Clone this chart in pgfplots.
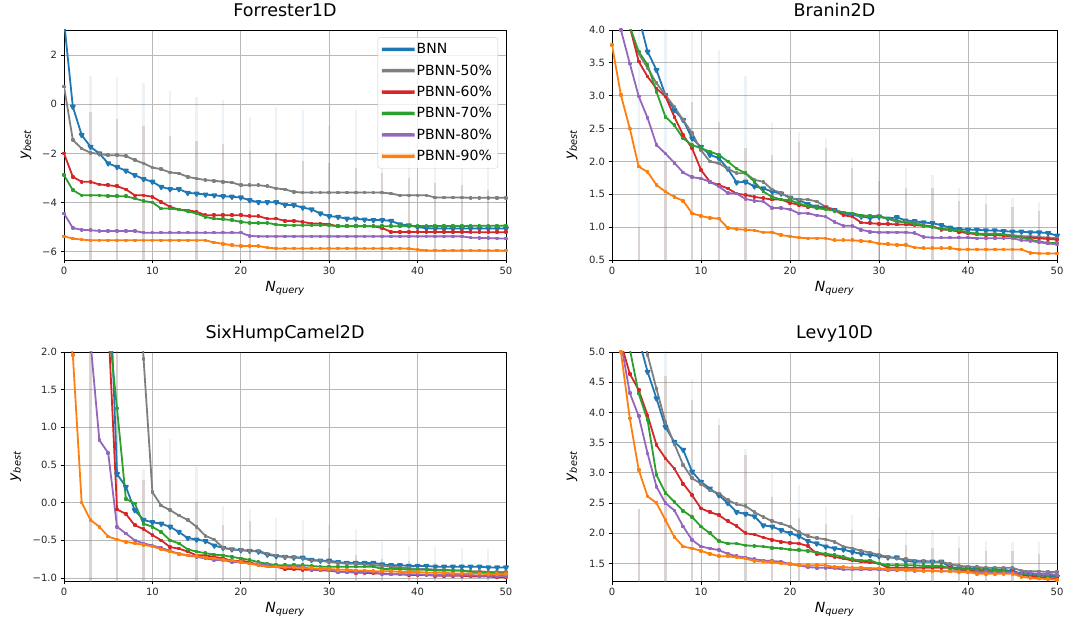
\documentclass[border=0pt]{standalone}
\usepackage{fontspec}
\setmainfont{DejaVu Sans}
\usepackage{pgfplots}
\usepackage{pgfplotstable}
\pgfplotsset{compat=1.18}

\definecolor{cB}{HTML}{1F77B4}
\definecolor{c50}{HTML}{7F7F7F}
\definecolor{c60}{HTML}{D62728}
\definecolor{c70}{HTML}{2CA02C}
\definecolor{c80}{HTML}{9467BD}
\definecolor{c90}{HTML}{FF7F0E}
\definecolor{errbr}{HTML}{A8765E}
\definecolor{gridc}{HTML}{B8B8B8}
\definecolor{legc}{HTML}{CCCCCC}

% mean best value per query, one table per benchmark
\pgfplotstableread{
x bnn p50 p60 p70 p80 p90
0 3.40 0.72 -2.00 -2.88 -4.44 -5.37
1 -0.10 -1.45 -2.95 -3.49 -5.03 -5.46
2 -1.25 -1.80 -3.15 -3.70 -5.10 -5.50
3 -1.73 -1.97 -3.15 -3.70 -5.12 -5.53
4 -2.00 -2.02 -3.26 -3.70 -5.15 -5.53
5 -2.40 -2.07 -3.29 -3.72 -5.15 -5.53
6 -2.55 -2.07 -3.33 -3.74 -5.15 -5.53
7 -2.70 -2.10 -3.46 -3.74 -5.15 -5.53
8 -2.88 -2.27 -3.70 -3.83 -5.15 -5.53
9 -3.04 -2.40 -3.70 -3.93 -5.22 -5.53
10 -3.15 -2.57 -3.76 -3.99 -5.22 -5.53
11 -3.36 -2.64 -3.97 -4.24 -5.22 -5.53
12 -3.45 -2.77 -4.17 -4.24 -5.22 -5.53
13 -3.45 -2.81 -4.28 -4.28 -5.22 -5.53
14 -3.60 -2.95 -4.31 -4.35 -5.22 -5.53
15 -3.63 -3.02 -4.37 -4.44 -5.22 -5.53
16 -3.67 -3.08 -4.51 -4.58 -5.22 -5.53
17 -3.70 -3.11 -4.51 -4.65 -5.22 -5.62
18 -3.74 -3.15 -4.51 -4.67 -5.22 -5.67
19 -3.76 -3.18 -4.51 -4.71 -5.22 -5.73
20 -3.79 -3.29 -4.51 -4.78 -5.22 -5.76
21 -3.90 -3.29 -4.55 -4.82 -5.35 -5.76
22 -3.98 -3.29 -4.55 -4.82 -5.37 -5.76
23 -3.98 -3.33 -4.65 -4.82 -5.37 -5.83
24 -3.98 -3.42 -4.65 -4.89 -5.37 -5.86
25 -4.09 -3.46 -4.74 -4.92 -5.37 -5.86
26 -4.10 -3.56 -4.74 -4.92 -5.37 -5.86
27 -4.20 -3.59 -4.78 -4.92 -5.37 -5.86
28 -4.27 -3.59 -4.85 -4.92 -5.37 -5.86
29 -4.44 -3.59 -4.85 -4.92 -5.37 -5.86
30 -4.55 -3.59 -4.88 -4.92 -5.37 -5.86
31 -4.58 -3.59 -4.96 -4.96 -5.37 -5.86
32 -4.65 -3.59 -4.96 -4.96 -5.37 -5.86
33 -4.65 -3.59 -4.96 -4.96 -5.37 -5.86
34 -4.69 -3.59 -4.96 -4.96 -5.37 -5.86
35 -4.71 -3.59 -4.96 -4.96 -5.37 -5.86
36 -4.71 -3.59 -5.03 -4.96 -5.37 -5.86
37 -4.74 -3.63 -5.19 -4.96 -5.37 -5.86
38 -4.88 -3.70 -5.19 -4.96 -5.37 -5.86
39 -4.92 -3.70 -5.19 -4.96 -5.37 -5.87
40 -4.99 -3.70 -5.19 -4.95 -5.37 -5.91
41 -5.04 -3.70 -5.19 -4.95 -5.37 -5.94
42 -5.05 -3.79 -5.19 -4.95 -5.37 -5.94
43 -5.05 -3.79 -5.19 -4.95 -5.37 -5.94
44 -5.05 -3.79 -5.19 -4.95 -5.37 -5.94
45 -5.05 -3.79 -5.19 -4.95 -5.37 -5.94
46 -5.05 -3.80 -5.20 -4.94 -5.42 -5.94
47 -5.05 -3.80 -5.20 -4.94 -5.43 -5.94
48 -5.05 -3.80 -5.20 -4.94 -5.44 -5.94
49 -5.05 -3.80 -5.20 -4.94 -5.45 -5.94
50 -5.05 -3.80 -5.20 -4.93 -5.46 -5.94
}\Fdat

\pgfplotstableread{
x bnn p50 p60 p70 p80 p90
0 6.50 6.00 6.00 6.00 5.00 3.77
1 5.80 5.00 5.00 5.00 4.00 3.01
2 5.00 4.05 4.05 4.05 3.49 2.50
3 4.20 3.64 3.52 3.67 2.99 1.92
4 3.67 3.42 3.29 3.47 2.66 1.84
5 3.39 3.19 3.11 3.06 2.25 1.64
6 3.01 3.01 2.99 2.68 2.12 1.54
7 2.78 2.83 2.68 2.55 1.98 1.46
8 2.63 2.63 2.40 2.35 1.83 1.40
9 2.35 2.43 2.20 2.25 1.76 1.21
10 2.22 2.17 1.87 2.20 1.74 1.17
11 2.10 2.00 1.69 2.15 1.69 1.14
12 2.05 1.97 1.64 2.10 1.62 1.13
13 1.89 1.89 1.59 2.00 1.52 0.99
14 1.68 1.82 1.51 1.89 1.51 0.97
15 1.69 1.82 1.49 1.82 1.43 0.96
16 1.62 1.72 1.46 1.69 1.40 0.95
17 1.59 1.69 1.44 1.54 1.39 0.92
18 1.54 1.57 1.42 1.46 1.29 0.92
19 1.51 1.52 1.42 1.42 1.29 0.88
20 1.45 1.44 1.37 1.41 1.27 0.86
21 1.41 1.42 1.34 1.36 1.21 0.84
22 1.35 1.42 1.31 1.32 1.21 0.83
23 1.31 1.39 1.30 1.29 1.18 0.83
24 1.30 1.31 1.29 1.27 1.16 0.83
25 1.26 1.27 1.26 1.25 1.08 0.80
26 1.21 1.22 1.18 1.22 1.02 0.80
27 1.19 1.20 1.16 1.21 1.02 0.80
28 1.16 1.17 1.07 1.18 0.96 0.79
29 1.14 1.17 1.06 1.17 0.93 0.78
30 1.16 1.17 1.05 1.16 0.92 0.75
31 1.13 1.13 1.05 1.13 0.92 0.74
32 1.15 1.08 1.04 1.10 0.92 0.73
33 1.10 1.08 1.04 1.07 0.92 0.73
34 1.09 1.07 1.03 1.05 0.91 0.69
35 1.07 1.03 1.02 1.02 0.85 0.68
36 1.06 1.01 1.01 1.00 0.84 0.68
37 1.03 0.96 0.97 0.98 0.84 0.68
38 0.99 0.96 0.96 0.96 0.84 0.68
39 0.97 0.93 0.93 0.95 0.84 0.66
40 0.96 0.91 0.91 0.92 0.84 0.66
41 0.96 0.90 0.89 0.90 0.83 0.66
42 0.95 0.90 0.88 0.89 0.83 0.66
43 0.95 0.90 0.88 0.89 0.83 0.66
44 0.94 0.89 0.87 0.89 0.83 0.66
45 0.93 0.88 0.86 0.86 0.83 0.66
46 0.93 0.86 0.84 0.84 0.80 0.66
47 0.92 0.86 0.84 0.81 0.79 0.61
48 0.92 0.85 0.83 0.78 0.77 0.60
49 0.91 0.84 0.82 0.76 0.75 0.60
50 0.87 0.83 0.81 0.76 0.74 0.60
}\Bdat

\pgfplotstableread{
x bnn p50 p60 p70 p80 p90
0 9.00 12.00 9.00 9.00 8.00 2.60
1 8.00 11.00 8.00 8.00 6.00 1.96
2 7.00 10.00 7.00 7.00 4.00 -0.00
3 6.00 9.00 6.00 6.00 2.13 -0.23
4 5.00 8.00 4.50 4.50 0.83 -0.32
5 3.50 7.00 2.40 2.40 0.66 -0.45
6 0.38 6.00 -0.09 1.25 -0.32 -0.49
7 0.21 5.00 -0.15 0.05 -0.41 -0.52
8 -0.10 4.00 -0.30 -0.01 -0.50 -0.54
9 -0.23 1.91 -0.35 -0.28 -0.54 -0.56
10 -0.26 0.14 -0.43 -0.32 -0.57 -0.58
11 -0.28 -0.04 -0.50 -0.39 -0.60 -0.62
12 -0.32 -0.10 -0.59 -0.50 -0.64 -0.65
13 -0.39 -0.17 -0.61 -0.54 -0.68 -0.68
14 -0.47 -0.23 -0.65 -0.62 -0.70 -0.70
15 -0.49 -0.32 -0.70 -0.65 -0.72 -0.71
16 -0.51 -0.44 -0.70 -0.67 -0.74 -0.73
17 -0.57 -0.49 -0.72 -0.69 -0.76 -0.74
18 -0.60 -0.60 -0.74 -0.70 -0.76 -0.76
19 -0.62 -0.62 -0.77 -0.72 -0.79 -0.77
20 -0.63 -0.63 -0.77 -0.74 -0.79 -0.79
21 -0.64 -0.64 -0.79 -0.76 -0.81 -0.81
22 -0.65 -0.64 -0.83 -0.79 -0.81 -0.83
23 -0.69 -0.68 -0.85 -0.81 -0.83 -0.85
24 -0.71 -0.70 -0.85 -0.83 -0.85 -0.85
25 -0.72 -0.72 -0.88 -0.83 -0.85 -0.86
26 -0.73 -0.72 -0.88 -0.83 -0.85 -0.86
27 -0.73 -0.74 -0.89 -0.83 -0.85 -0.87
28 -0.76 -0.77 -0.89 -0.84 -0.89 -0.87
29 -0.77 -0.77 -0.90 -0.85 -0.89 -0.88
30 -0.77 -0.79 -0.90 -0.85 -0.89 -0.88
31 -0.79 -0.80 -0.92 -0.85 -0.92 -0.89
32 -0.80 -0.81 -0.92 -0.85 -0.92 -0.89
33 -0.80 -0.81 -0.93 -0.85 -0.92 -0.90
34 -0.80 -0.82 -0.93 -0.85 -0.92 -0.90
35 -0.80 -0.83 -0.94 -0.85 -0.92 -0.91
36 -0.82 -0.84 -0.94 -0.88 -0.95 -0.91
37 -0.83 -0.85 -0.95 -0.88 -0.95 -0.91
38 -0.83 -0.86 -0.95 -0.88 -0.95 -0.92
39 -0.84 -0.87 -0.96 -0.89 -0.95 -0.92
40 -0.84 -0.88 -0.96 -0.89 -0.95 -0.92
41 -0.84 -0.88 -0.96 -0.89 -0.96 -0.93
42 -0.85 -0.89 -0.97 -0.90 -0.96 -0.93
43 -0.85 -0.89 -0.97 -0.90 -0.96 -0.93
44 -0.85 -0.90 -0.97 -0.90 -0.96 -0.94
45 -0.85 -0.90 -0.97 -0.90 -0.96 -0.94
46 -0.85 -0.91 -0.98 -0.92 -0.96 -0.94
47 -0.85 -0.91 -0.98 -0.93 -0.97 -0.94
48 -0.86 -0.92 -0.98 -0.93 -0.97 -0.95
49 -0.86 -0.92 -0.99 -0.94 -0.97 -0.95
50 -0.86 -0.92 -0.99 -0.94 -0.97 -0.95
}\Sdat

\pgfplotstableread{
x bnn p50 p60 p70 p80 p90
0 8.00 8.00 7.00 7.00 7.00 7.00
1 6.50 7.00 5.15 6.00 5.15 5.00
2 6.00 6.50 4.64 5.05 4.32 3.90
3 5.22 6.00 4.37 4.31 3.94 3.05
4 4.67 4.95 3.95 3.87 3.32 2.61
5 4.23 4.39 3.46 2.96 2.77 2.50
6 3.76 3.84 3.24 2.67 2.50 2.22
7 3.51 3.48 3.07 2.52 2.38 1.94
8 3.38 3.13 2.82 2.37 2.11 1.78
9 3.02 2.91 2.63 2.27 1.89 1.75
10 2.85 2.82 2.41 2.11 1.78 1.71
11 2.74 2.71 2.35 2.00 1.75 1.66
12 2.63 2.66 2.30 1.87 1.72 1.62
13 2.50 2.55 2.20 1.83 1.66 1.62
14 2.35 2.48 2.12 1.83 1.62 1.60
15 2.32 2.45 2.00 1.80 1.60 1.58
16 2.28 2.35 1.98 1.79 1.57 1.54
17 2.13 2.27 1.93 1.78 1.55 1.53
18 2.11 2.20 1.89 1.76 1.54 1.52
19 2.05 2.16 1.86 1.75 1.53 1.50
20 2.00 2.11 1.84 1.73 1.49 1.49
21 1.95 2.02 1.83 1.72 1.47 1.47
22 1.87 1.95 1.79 1.71 1.44 1.47
23 1.83 1.92 1.66 1.68 1.43 1.47
24 1.78 1.90 1.64 1.66 1.43 1.47
25 1.75 1.86 1.61 1.64 1.42 1.44
26 1.73 1.78 1.58 1.61 1.40 1.44
27 1.69 1.75 1.55 1.57 1.40 1.43
28 1.66 1.71 1.53 1.55 1.40 1.43
29 1.64 1.68 1.52 1.55 1.40 1.42
30 1.62 1.64 1.50 1.50 1.40 1.42
31 1.60 1.61 1.43 1.47 1.39 1.40
32 1.60 1.58 1.43 1.47 1.39 1.40
33 1.54 1.57 1.43 1.47 1.39 1.39
34 1.53 1.55 1.43 1.47 1.38 1.39
35 1.53 1.54 1.43 1.46 1.38 1.38
36 1.53 1.53 1.43 1.46 1.38 1.38
37 1.53 1.53 1.43 1.46 1.37 1.37
38 1.44 1.49 1.43 1.42 1.37 1.37
39 1.42 1.46 1.39 1.41 1.37 1.36
40 1.42 1.45 1.39 1.40 1.36 1.36
41 1.41 1.44 1.39 1.40 1.36 1.33
42 1.40 1.43 1.39 1.40 1.36 1.33
43 1.40 1.43 1.36 1.39 1.35 1.33
44 1.39 1.43 1.36 1.37 1.35 1.33
45 1.38 1.43 1.36 1.35 1.35 1.33
46 1.33 1.38 1.31 1.33 1.34 1.28
47 1.31 1.37 1.29 1.32 1.34 1.26
48 1.30 1.37 1.27 1.31 1.33 1.25
49 1.29 1.36 1.26 1.30 1.33 1.24
50 1.28 1.36 1.25 1.30 1.31 1.23
}\Ldat

% spread bars every third query: base, extent of BNN bar, extent of the others
\pgfplotstableread{
x lo db dr
3 -6.5 7.65 6.2
6 -6.5 7.59 5.9
9 -6.5 7.36 5.6
12 -6.5 7.02 5.2
15 -6.5 6.81 5.0
18 -6.5 6.68 4.9
21 -6.5 6.00 4.6
24 -6.5 6.40 4.5
27 -6.5 6.27 4.2
30 -6.5 5.60 4.1
33 -6.5 6.27 3.9
36 -6.5 5.60 3.7
39 -6.5 5.00 3.5
42 -6.5 4.90 3.3
45 -6.5 4.70 3.2
48 -6.5 4.50 3.0
}\Ferr

\pgfplotstableread{
x lo db dr
3 0.4 4.10 0.60
6 0.4 4.10 1.60
9 0.4 4.10 2.50
12 0.4 3.30 2.20
15 0.4 2.90 1.80
18 0.4 2.20 1.70
21 0.4 2.05 1.90
24 0.4 1.95 1.80
27 0.4 1.65 1.50
30 0.4 1.60 1.30
33 0.4 1.50 1.20
36 0.4 1.40 1.20
39 0.4 1.20 1.00
42 0.4 1.10 0.95
45 0.4 1.05 0.90
48 0.4 0.98 0.85
}\Berr

\pgfplotstableread{
x lo db dr
3 -1.1 3.60 3.60
6 -1.1 3.60 3.60
9 -1.1 1.55 1.40
12 -1.1 1.95 1.40
15 -1.1 1.57 1.10
18 -1.1 1.06 0.80
21 -1.1 1.02 0.85
24 -1.1 0.89 0.60
27 -1.1 0.87 0.60
30 -1.1 0.80 0.50
33 -1.1 0.75 0.40
36 -1.1 0.58 0.35
39 -1.1 0.53 0.32
42 -1.1 0.51 0.30
45 -1.1 0.50 0.28
48 -1.1 0.49 0.25
}\Serr

\pgfplotstableread{
x lo db dr
3 1.1 1.30 1.30
6 1.1 4.00 3.50
9 1.1 3.45 3.10
12 1.1 2.80 2.70
15 1.1 2.30 2.20
18 1.1 1.90 1.50
21 1.1 1.70 1.15
24 1.1 1.35 1.05
27 1.1 1.20 0.95
30 1.1 1.15 0.80
33 1.1 0.95 0.70
36 1.1 0.95 0.65
39 1.1 0.85 0.65
42 1.1 0.78 0.60
45 1.1 0.75 0.60
48 1.1 0.75 0.55
}\Lerr

\pgfplotsset{
  panel/.style={scale only axis, anchor=south west, xmin=0, xmax=50,
    xtick={0,10,20,30,40,50}, xticklabels={0,10,20,30,40,50},
    grid=major, major grid style={gridc, line width=0.9pt},
    axis line style={black, line width=0.8pt},
    tick align=outside, tick pos=left, major tick length=3.5pt,
    tick style={black, line width=0.8pt},
    ticklabel style={font=\fontsize{10}{12}\selectfont, text=black!85},
    title style={font=\fontsize{17.5}{20}\selectfont, at={(0.5,1)}, anchor=base, yshift=7pt},
    label style={font=\fontsize{14}{16}\selectfont},
    xlabel={\itshape N\textsubscript{query}},
    ylabel={\itshape y\textsubscript{best}},
  },
  ln/.style={line width=1.8pt, line join=round, mark=square*, mark size=0.9pt},
  bn/.style={ln, color=cB, mark=triangle*, mark size=2.3pt, mark options={rotate=180}},
  errb/.style={forget plot, only marks, mark=none,
    error bars/y dir=plus, error bars/y explicit, error bars/error mark=none,
    error bars/error bar style={line width=2.2pt, draw=cB, draw opacity=0.09}},
  errr/.style={forget plot, only marks, mark=none,
    error bars/y dir=plus, error bars/y explicit, error bars/error mark=none,
    error bars/error bar style={line width=2.2pt, draw=errbr, draw opacity=0.25}},
}

\begin{document}
\begin{tikzpicture}
\useasboundingbox (0pt,0pt) rectangle (1076pt,621pt);

\begin{axis}[panel, at={(64pt,361pt)}, width=442pt, height=230pt,
  title={Forrester1D}, ymin=-6.33, ymax=3.02,
  ytick={-6,-4,-2,0,2}, yticklabels={−6,−4,−2,0,2},
  ylabel style={at={(axis description cs:-0.086,0.5)}, anchor=center},
  legend style={at={(rel axis cs:0.982,0.968)}, anchor=north east,
    font=\fontsize{14}{16}\selectfont, draw=legc, rounded corners=2pt,
    fill=white, fill opacity=0.8, text opacity=1, row sep=5.5pt,
    inner xsep=4pt, inner ysep=4pt},
  legend cell align=left,
  legend image code/.code={\fill[#1, mark=none, fill opacity=1] (0pt,-0.85pt) rectangle (31pt,0.85pt);}]
\addplot[errb] table[x=x, y=lo, y error plus=db]{\Ferr};
\addplot[errr] table[x=x, y=lo, y error plus=dr]{\Ferr};
\addplot[bn] table[x=x, y=bnn]{\Fdat};
\addplot[ln, color=c50] table[x=x, y=p50]{\Fdat};
\addplot[ln, color=c60] table[x=x, y=p60]{\Fdat};
\addplot[ln, color=c70] table[x=x, y=p70]{\Fdat};
\addplot[ln, color=c80] table[x=x, y=p80]{\Fdat};
\addplot[ln, color=c90] table[x=x, y=p90]{\Fdat};
\legend{BNN,PBNN-50\%,PBNN-60\%,PBNN-70\%,PBNN-80\%,PBNN-90\%}
\end{axis}

\begin{axis}[panel, at={(612pt,361pt)}, width=445pt, height=230pt,
  title={Branin2D}, ymin=0.5, ymax=4.0,
  ytick={0.5,1.0,1.5,2.0,2.5,3.0,3.5,4.0},
  yticklabels={0.5,1.0,1.5,2.0,2.5,3.0,3.5,4.0},
  ylabel style={at={(axis description cs:-0.090,0.5)}, anchor=center}]
\addplot[errb] table[x=x, y=lo, y error plus=db]{\Berr};
\addplot[errr] table[x=x, y=lo, y error plus=dr]{\Berr};
\addplot[bn] table[x=x, y=bnn]{\Bdat};
\addplot[ln, color=c50] table[x=x, y=p50]{\Bdat};
\addplot[ln, color=c60] table[x=x, y=p60]{\Bdat};
\addplot[ln, color=c70] table[x=x, y=p70]{\Bdat};
\addplot[ln, color=c80] table[x=x, y=p80]{\Bdat};
\addplot[ln, color=c90] table[x=x, y=p90]{\Bdat};
\end{axis}

\begin{axis}[panel, at={(64pt,40pt)}, width=442pt, height=229pt,
  title={SixHumpCamel2D}, ymin=-1.04, ymax=2.0,
  ytick={-1,-0.5,0,0.5,1,1.5,2},
  yticklabels={−1.0,−0.5,0.0,0.5,1.0,1.5,2.0},
  ylabel style={at={(axis description cs:-0.109,0.5)}, anchor=center}]
\addplot[errb] table[x=x, y=lo, y error plus=db]{\Serr};
\addplot[errr] table[x=x, y=lo, y error plus=dr]{\Serr};
\addplot[bn] table[x=x, y=bnn]{\Sdat};
\addplot[ln, color=c50] table[x=x, y=p50]{\Sdat};
\addplot[ln, color=c60] table[x=x, y=p60]{\Sdat};
\addplot[ln, color=c70] table[x=x, y=p70]{\Sdat};
\addplot[ln, color=c80] table[x=x, y=p80]{\Sdat};
\addplot[ln, color=c90] table[x=x, y=p90]{\Sdat};
\end{axis}

\begin{axis}[panel, at={(612pt,40pt)}, width=445pt, height=229pt,
  title={Levy10D}, ymin=1.21, ymax=5.0,
  ytick={1.5,2.0,2.5,3.0,3.5,4.0,4.5,5.0},
  yticklabels={1.5,2.0,2.5,3.0,3.5,4.0,4.5,5.0},
  ylabel style={at={(axis description cs:-0.090,0.5)}, anchor=center}]
\addplot[errb] table[x=x, y=lo, y error plus=db]{\Lerr};
\addplot[errr] table[x=x, y=lo, y error plus=dr]{\Lerr};
\addplot[bn] table[x=x, y=bnn]{\Ldat};
\addplot[ln, color=c50] table[x=x, y=p50]{\Ldat};
\addplot[ln, color=c60] table[x=x, y=p60]{\Ldat};
\addplot[ln, color=c70] table[x=x, y=p70]{\Ldat};
\addplot[ln, color=c80] table[x=x, y=p80]{\Ldat};
\addplot[ln, color=c90] table[x=x, y=p90]{\Ldat};
\end{axis}
\end{tikzpicture}
\end{document}
